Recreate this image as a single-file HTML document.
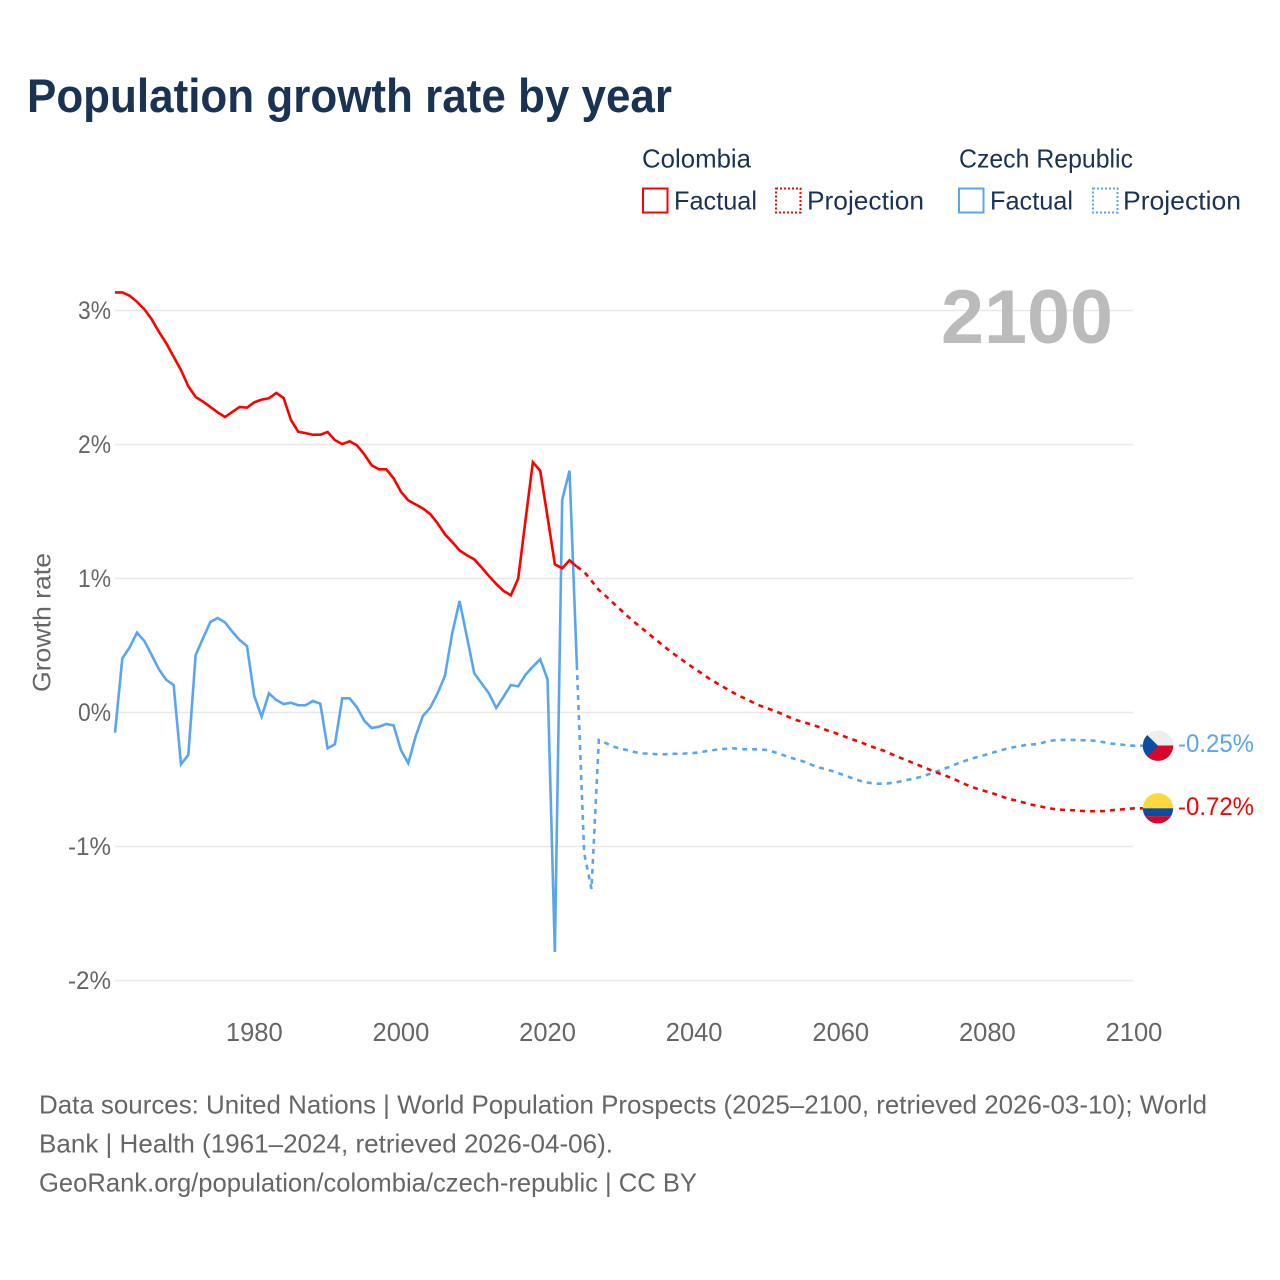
<!DOCTYPE html>
<html lang="en">
<head>
<meta charset="utf-8">
<title>Population growth rate by year</title>
<style>
html,body{margin:0;padding:0;background:#fff;}
svg{display:block;}
text{font-family:"Liberation Sans",sans-serif;}
</style>
</head>
<body>
<svg id="chart" xmlns="http://www.w3.org/2000/svg" width="1280" height="1280" viewBox="0 0 1280 1280">
  <defs>
    <clipPath id="flag-clip-cz"><circle cx="1158" cy="745.7" r="15.2"/></clipPath>
    <clipPath id="flag-clip-co"><circle cx="1158" cy="808.3" r="15.2"/></clipPath>
  </defs>
  <rect width="1280" height="1280" fill="#fff"/>
  <text x="27" y="112" font-size="47" font-weight="700" fill="#1a3355" textLength="645" lengthAdjust="spacingAndGlyphs">Population growth rate by year</text>

  <g font-size="26" fill="#1a3355">
    <text x="642" y="167.5" textLength="109" lengthAdjust="spacingAndGlyphs">Colombia</text>
    <text x="959" y="167.5" textLength="174" lengthAdjust="spacingAndGlyphs">Czech Republic</text>
    <rect x="643" y="188.5" width="24.5" height="24" fill="none" stroke="#ff0000" stroke-width="2"/>
    <text x="674" y="209.5" textLength="83" lengthAdjust="spacingAndGlyphs">Factual</text>
    <rect x="776" y="188.5" width="24.5" height="24" fill="none" stroke="#ff0000" stroke-width="2" stroke-dasharray="2 2"/>
    <text x="807" y="209.5" textLength="117" lengthAdjust="spacingAndGlyphs">Projection</text>
    <rect x="959" y="188.5" width="24.5" height="24" fill="none" stroke="#5aa5f0" stroke-width="2"/>
    <text x="990" y="209.5" textLength="83" lengthAdjust="spacingAndGlyphs">Factual</text>
    <rect x="1093" y="188.5" width="24.5" height="24" fill="none" stroke="#5aa5f0" stroke-width="2" stroke-dasharray="2 2"/>
    <text x="1123" y="209.5" textLength="118" lengthAdjust="spacingAndGlyphs">Projection</text>
  </g>

  <text transform="translate(50.5 692) rotate(-90)" font-size="25" fill="#666" textLength="139" lengthAdjust="spacingAndGlyphs">Growth rate</text>

  <g id="grid"></g>
  <g id="y-ticks"></g>
  <g id="x-ticks"></g>

  <text x="941" y="343" font-size="76" font-weight="700" fill="#bbbbbb" textLength="172" lengthAdjust="spacingAndGlyphs">2100</text>

  <g id="series"></g>

  <g clip-path="url(#flag-clip-cz)">
    <rect x="1142" y="730" width="32" height="16" fill="#eeeeee"/>
    <rect x="1142" y="745.5" width="32" height="16" fill="#d7062b"/>
    <polygon points="1142,730 1158,745.6 1142,761.5" fill="#0a4ea2"/>
  </g>
  <g clip-path="url(#flag-clip-co)">
    <rect x="1142" y="792" width="32" height="16.5" fill="#ffd83d"/>
    <rect x="1142" y="808.3" width="32" height="8" fill="#0a4ea2"/>
    <rect x="1142" y="816.2" width="32" height="9" fill="#d7062b"/>
  </g>
  <text id="label-cz" x="1178" y="752" font-size="25" fill="#5aa5f0" textLength="76" lengthAdjust="spacingAndGlyphs">-0.25%</text>
  <text id="label-co" x="1178" y="815" font-size="25" fill="#ff0000" textLength="76" lengthAdjust="spacingAndGlyphs">-0.72%</text>

  <g font-size="26" fill="#666666">
    <text x="39" y="1113.5" textLength="1168" lengthAdjust="spacingAndGlyphs">Data sources: United Nations | World Population Prospects (2025–2100, retrieved 2026-03-10); World</text>
    <text x="39" y="1152.5" textLength="574" lengthAdjust="spacingAndGlyphs">Bank | Health (1961–2024, retrieved 2026-04-06).</text>
    <text x="39" y="1191.5" textLength="658" lengthAdjust="spacingAndGlyphs">GeoRank.org/population/colombia/czech-republic | CC BY</text>
  </g>
</svg>

<script>
const factualYears = [1961,1962,1963,1964,1965,1966,1967,1968,1969,
  1970,1971,1972,1973,1974,1975,1976,1977,1978,1979,
  1980,1981,1982,1983,1984,1985,1986,1987,1988,1989,
  1990,1991,1992,1993,1994,1995,1996,1997,1998,1999,
  2000,2001,2002,2003,2004,2005,2006,2007,2008,2009,
  2010,2011,2012,2013,2014,2015,2016,2017,2018,2019,
  2020,2021,2022,2023,2024];
const projectionYears = [2024,2025,2026,2027,2028,2029,
  2030,2031,2032,2033,2034,2035,2036,2037,2038,2039,
  2040,2041,2042,2043,2044,2045,2046,2047,2048,2049,
  2050,2051,2052,2053,2054,2055,2056,2057,2058,2059,
  2060,2061,2062,2063,2064,2065,2066,2067,2068,2069,
  2070,2071,2072,2073,2074,2075,2076,2077,2078,2079,
  2080,2081,2082,2083,2084,2085,2086,2087,2088,2089,
  2090,2091,2092,2093,2094,2095,2096,2097,2098,2099,
  2100];
const colombiaFactual = [3.135,3.135,3.11,3.065,3.01,2.935,2.84,2.755,2.655,
  2.555,2.435,2.355,2.32,2.28,2.24,2.205,2.243,2.28,2.275,
  2.315,2.335,2.345,2.385,2.347,2.183,2.095,2.085,2.073,2.073,
  2.093,2.033,2.003,2.024,1.994,1.927,1.845,1.815,1.815,1.748,
  1.648,1.583,1.553,1.523,1.481,1.412,1.33,1.272,1.21,1.173,
  1.143,1.083,1.019,0.959,0.907,0.875,1.0,1.437,1.867,1.805,
  1.46,1.106,1.076,1.136,1.088];
const colombiaProjection = [1.088,1.05,0.983,0.914,0.867,0.815,
  0.765,0.715,0.668,0.623,0.578,0.534,0.489,0.446,0.407,0.367,
  0.33,0.293,0.255,0.222,0.19,0.158,0.128,0.103,0.076,0.051,
  0.031,0.011,-0.011,-0.036,-0.058,-0.073,-0.09,-0.108,-0.131,-0.148,
  -0.168,-0.189,-0.208,-0.228,-0.25,-0.27,-0.287,-0.312,-0.335,-0.357,
  -0.379,-0.402,-0.424,-0.446,-0.466,-0.487,-0.511,-0.536,-0.558,-0.576,
  -0.591,-0.608,-0.628,-0.646,-0.658,-0.673,-0.688,-0.698,-0.71,-0.72,
  -0.725,-0.728,-0.73,-0.735,-0.737,-0.737,-0.735,-0.729,-0.725,-0.72,
  -0.715];
const czechFactual = [-0.15,0.404,0.486,0.596,0.534,0.429,0.322,0.243,0.205,
  -0.387,-0.317,0.429,0.553,0.675,0.705,0.673,0.603,0.541,0.496,
  0.123,-0.031,0.143,0.093,0.063,0.073,0.054,0.054,0.086,0.066,
  -0.267,-0.237,0.106,0.106,0.039,-0.061,-0.116,-0.106,-0.086,-0.096,
  -0.28,-0.379,-0.18,-0.026,0.036,0.143,0.272,0.591,0.832,0.566,
  0.293,0.218,0.143,0.034,0.118,0.205,0.195,0.282,0.342,0.397,
  0.248,-1.787,1.586,1.805,0.354];
const czechProjection = [0.354,-1.05,-1.317,-0.205,-0.23,-0.255,
  -0.27,-0.282,-0.297,-0.305,-0.307,-0.312,-0.312,-0.307,-0.31,-0.305,
  -0.302,-0.295,-0.285,-0.278,-0.272,-0.267,-0.27,-0.275,-0.275,-0.275,
  -0.28,-0.297,-0.315,-0.335,-0.35,-0.367,-0.39,-0.41,-0.424,-0.439,
  -0.459,-0.479,-0.499,-0.516,-0.526,-0.531,-0.532,-0.525,-0.516,-0.504,
  -0.494,-0.479,-0.461,-0.442,-0.422,-0.402,-0.379,-0.36,-0.342,-0.327,
  -0.312,-0.295,-0.28,-0.265,-0.255,-0.245,-0.239,-0.235,-0.218,-0.208,
  -0.205,-0.205,-0.205,-0.207,-0.208,-0.213,-0.223,-0.233,-0.237,-0.245,
  -0.248];
const xTickYears = [1980,2000,2020,2040,2060,2080,2100];
const yTickValues = [-2,-1,0,1,2,3];

const NS = 'http://www.w3.org/2000/svg';
function xScale(year){ return 115 + (year - 1961) * (1134 - 115) / (2100 - 1961); }
function yScale(v){ return 712.5 - v * 134; }
function svgEl(tag, parent){
  const el = document.createElementNS(NS, tag);
  parent.appendChild(el);
  return el;
}
function linePath(years, values){
  return years.map(function(yr, i){
    return (i ? 'L' : 'M') + xScale(yr).toFixed(2) + ' ' + yScale(values[i]).toFixed(2);
  }).join(' ');
}

const gridGroup = document.getElementById('grid');
const yGroup = document.getElementById('y-ticks');
yTickValues.forEach(function(t){
  const gl = svgEl('line', gridGroup);
  
  
  gl.setAttribute('x1', 115);
  gl.setAttribute('x2', 1133);
  gl.setAttribute('y1', yScale(t));
  gl.setAttribute('y2', yScale(t));
  gl.setAttribute('stroke', '#e8e8e8');
  gl.setAttribute('stroke-width', '1.4');

  const lab = svgEl('text', yGroup);
  const str = t + '%';
  
  
  lab.setAttribute('x', 111);
  lab.setAttribute('y', yScale(t) + 8.5);
  lab.setAttribute('text-anchor', 'end');
  lab.setAttribute('font-size', '25');
  lab.setAttribute('fill', '#666666');
  lab.setAttribute('textLength', str.length === 2 ? 33 : 43);
  lab.setAttribute('lengthAdjust', 'spacingAndGlyphs');
  lab.textContent = str;
});

const xGroup = document.getElementById('x-ticks');
xTickYears.forEach(function(yr){
  const lab = svgEl('text', xGroup);
  
  
  lab.setAttribute('x', xScale(yr));
  lab.setAttribute('y', 1041);
  lab.setAttribute('text-anchor', 'middle');
  lab.setAttribute('font-size', '25.5');
  lab.setAttribute('fill', '#666666');
  lab.textContent = String(yr);
});

const seriesGroup = document.getElementById('series');

const czFactualLine = svgEl('path', seriesGroup);


czFactualLine.setAttribute('d', linePath(factualYears, czechFactual));
czFactualLine.setAttribute('fill', 'none');
czFactualLine.setAttribute('stroke', '#5aa5f0');
czFactualLine.setAttribute('stroke-width', '2.6');

const coFactualLine = svgEl('path', seriesGroup);


coFactualLine.setAttribute('d', linePath(factualYears, colombiaFactual));
coFactualLine.setAttribute('fill', 'none');
coFactualLine.setAttribute('stroke', '#ff0000');
coFactualLine.setAttribute('stroke-width', '2.6');

const czProjLine = svgEl('path', seriesGroup);


czProjLine.setAttribute('d', linePath(projectionYears, czechProjection) + ' L 1143 ' + yScale(czechProjection[czechProjection.length - 1]).toFixed(2));
czProjLine.setAttribute('fill', 'none');
czProjLine.setAttribute('stroke', '#5aa5f0');
czProjLine.setAttribute('stroke-width', '2.6');
czProjLine.setAttribute('stroke-dasharray', '5 5');

const coProjLine = svgEl('path', seriesGroup);


coProjLine.setAttribute('d', linePath(projectionYears, colombiaProjection) + ' L 1143 ' + yScale(colombiaProjection[colombiaProjection.length - 1]).toFixed(2));
coProjLine.setAttribute('fill', 'none');
coProjLine.setAttribute('stroke', '#ff0000');
coProjLine.setAttribute('stroke-width', '2.6');
coProjLine.setAttribute('stroke-dasharray', '5 5');
</script>
</body>
</html>
